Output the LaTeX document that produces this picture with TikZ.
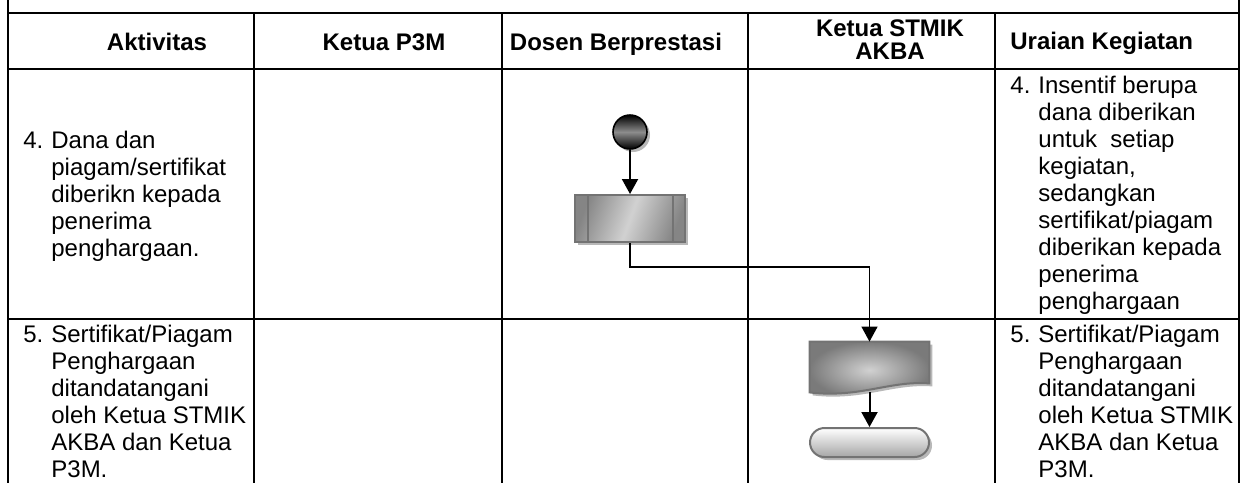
\documentclass[tikz,border=0pt]{standalone}
\usepackage{fontspec}
\setmainfont{Liberation Sans}
\usetikzlibrary{arrows.meta, shapes.misc, shadows, calc}

\newcommand{\numitem}[2]{\makebox[14pt][l]{#1}\begin{tabular}[t]{@{}l@{}}#2\end{tabular}}

\begin{document}
\begin{tikzpicture}[
        x=0.5pt, y=-0.5pt,
        grid/.style={line width=1pt},
        head/.style={font=\fontsize{12}{11.5}\selectfont\bfseries, inner sep=0pt, align=center},
        desc/.style={font=\fontsize{12}{13.5}\selectfont, inner sep=0pt, anchor=base west},
        shadowed/.style={drop shadow={shadow xshift=1.5pt, shadow yshift=-1.5pt, opacity=1, fill=black!28}},
        startnode/.style={circle, draw=black, line width=0.8pt, minimum size=17pt, inner sep=0pt, top color=black, bottom color=black, middle color=black!45, shadowed},
        process/.style={rectangle, draw=black!55, line width=1pt, minimum width=55pt, minimum height=23.5pt, inner sep=0pt, left color=black!48, right color=black!48, middle color=black!18, shading angle=70, shadowed},
        docbox/.style={rectangle, minimum width=59.5pt, minimum height=25pt, inner sep=0pt},
        endnode/.style={rounded rectangle, draw=black!55, line width=1pt, minimum width=59.5pt, minimum height=14.5pt, inner sep=0pt, top color=white, bottom color=black!35, shadowed},
        arrow/.style={-{Triangle[width=8pt,length=7.5pt]}, line width=1pt},
        elbow/.style={arrow, line width=0.7pt}
    ]
        \useasboundingbox (0,0) rectangle (1242,483);
        \draw[grid] (8,0) -- (8,483);
        \draw[grid] (1239,0) -- (1239,483);
        \foreach \y in {13,69,319} \draw[grid] (8,\y) -- (1239,\y);
        \foreach \x in {254,502,748,995} \draw[grid] (\x,13) -- (\x,483);
        \node[head, anchor=base] (hAkt) at (157,50) {Aktivitas};
        \node[head, anchor=base] (hP3M) at (384,50) {Ketua P3M};
        \node[head, anchor=base] (hDosen) at (616,50) {Dosen Berprestasi};
        \node[head] (hKetua) at (890,40) {Ketua STMIK\\AKBA};
        \node[head, anchor=base west] (hUraian) at (1010,49) {Uraian Kegiatan};
        \node[desc] (akt4) at (23,148) {\numitem{4.}{Dana dan\\piagam/sertifikat\\diberikn kepada\\penerima\\penghargaan.}};
        \node[desc] (akt5) at (23,342) {\numitem{5.}{Sertifikat/Piagam\\Penghargaan\\ditandatangani\\oleh Ketua STMIK\\AKBA dan Ketua\\P3M.}};
        \node[desc] (ur4) at (1010,93) {\numitem{4.}{Insentif berupa\\dana diberikan\\untuk\ \ setiap\\kegiatan,\\sedangkan\\sertifikat/piagam\\diberikan kepada\\penerima\\penghargaan}};
        \node[desc] (ur5) at (1010,342) {\numitem{5.}{Sertifikat/Piagam\\Penghargaan\\ditandatangani\\oleh Ketua STMIK\\AKBA dan Ketua\\P3M.}};
        \node[startnode] (start) at (630,132) {};
        \node[process] (proc) at (630,218.5) {};
        \draw[black!55, line width=1pt] ($(proc.north west)+(14,0)$) -- ($(proc.south west)+(14,0)$);
        \draw[black!55, line width=1pt] ($(proc.north east)+(-13,0)$) -- ($(proc.south east)+(-13,0)$);
        \node[docbox] (doc) at (869.5,367) {};
        \draw[draw=black!55, line width=1pt, shading=radial, inner color=black!18, outer color=black!52, shadowed]
            (doc.north west) -- (doc.north east) -- ($(doc.south east)+(0,-9)$)
            .. controls ($(doc.south)+(20,-12)$) and ($(doc.south)+(-10,6)$) .. (doc.south west) -- cycle;
        \node[endnode] (stop) at (869.5,442.5) {};
        \draw[arrow] (start) -- (proc);
        \draw[elbow] (proc.south) -- ++(0,24) -| (doc.north);
        \draw[arrow] (doc.south) -- (stop);
    \end{tikzpicture}
\end{document}
